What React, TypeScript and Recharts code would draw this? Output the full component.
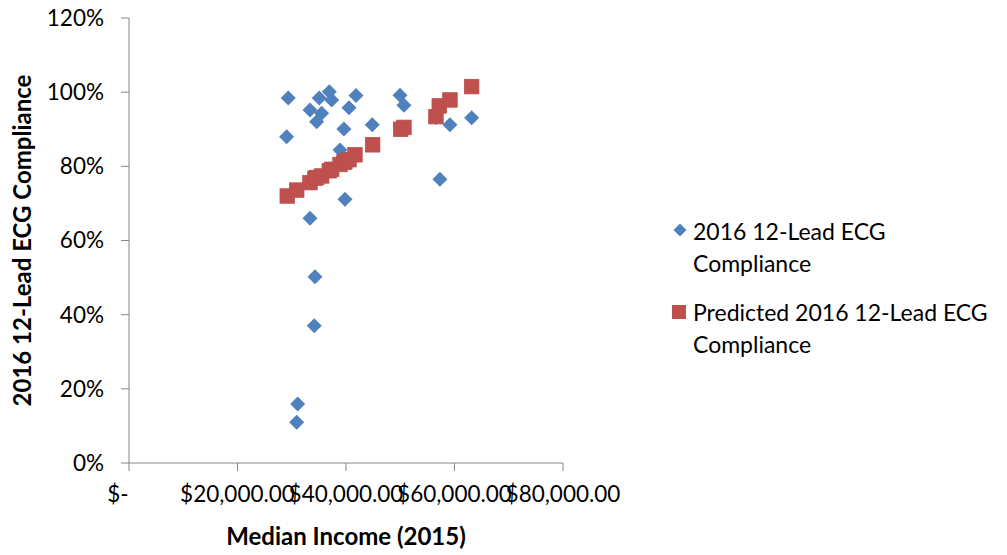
import React from 'react';
import { ScatterChart, Scatter, XAxis, YAxis, Legend } from 'recharts';

const incomeActual = [29360, 29060, 35070, 36920, 37360, 41840, 33360, 35510, 34590, 40550, 39620, 44840, 49950, 50680, 59160, 63160, 38890, 57320, 39810, 33360, 34280, 34150, 31090, 30910, 56580];
const complianceActual = [98.4, 88.0, 98.4, 100.1, 97.9, 99.1, 95.2, 94.3, 92.0, 95.8, 90.1, 91.2, 99.2, 96.5, 91.2, 93.1, 84.4, 76.5, 71.1, 66.0, 50.2, 37.0, 15.9, 11.0, 93.2];

const incomePredicted = [29170, 30910, 33360, 34280, 34590, 35510, 36920, 37360, 38890, 39620, 39810, 40550, 41650, 44910, 50070, 50680, 56580, 57190, 59160, 63160];
const compliancePredicted = [72.0, 73.6, 75.6, 76.8, 77.0, 77.4, 78.8, 79.2, 80.5, 81.1, 81.3, 81.8, 83.1, 85.8, 90.0, 90.5, 93.4, 96.3, 97.9, 101.5];

const xTicks = [0, 20000, 40000, 60000, 80000];
const xTickLabels = ['$-', '$20,000.00', '$40,000.00', '$60,000.00', '$80,000.00'];
const yTicks = [0, 20, 40, 60, 80, 100, 120];

const seriesNames = ['2016 12-Lead ECG Compliance', 'Predicted 2016 12-Lead ECG Compliance'];
const xTitle = 'Median Income (2015)';
const yTitle = '2016 12-Lead ECG Compliance';

const actualData = incomeActual.map((x, i) => ({ x, y: complianceActual[i] }));
const predictedData = incomePredicted.map((x, i) => ({ x, y: compliancePredicted[i] }));

const FONT = 'Lato, "Open Sans", sans-serif';
const BLUE = '#4F81BD';
const RED = '#C0504D';
const AXIS = '#868686';

const Diamond = (props: any) => {
  const { cx, cy } = props;
  const r = 7.5;
  return <polygon points={`${cx},${cy - r} ${cx + r},${cy} ${cx},${cy + r} ${cx - r},${cy}`} fill={BLUE} />;
};

const Square = (props: any) => {
  const { cx, cy } = props;
  const s = 14.5;
  return <rect x={cx - s / 2} y={cy - s / 2} width={s} height={s} fill={RED} stroke="#B9504D" strokeWidth={0.8} />;
};

const XTick = (props: any) => {
  const { x, y, payload } = props;
  const idx = xTicks.indexOf(payload.value);
  const label = idx >= 0 ? xTickLabels[idx] : String(payload.value);
  const shift = payload.value === 0 ? -11 : 0;
  return (
    <text x={x + shift} y={y} dy="0.71em" textAnchor="middle" fill="#000" fontFamily={FONT} fontSize={22.5}>
      {label}
    </text>
  );
};

const LegendContent = () => (
  <div style={{ fontFamily: FONT, fontSize: 23, lineHeight: '32px', color: '#000', whiteSpace: 'nowrap' }}>
    <div style={{ position: 'relative', paddingLeft: 20 }}>
      <svg width={16} height={16} style={{ position: 'absolute', left: 0, top: 8 }}>
        <polygon points="7,0.5 13.5,7 7,13.5 0.5,7" fill={BLUE} />
      </svg>
      2016 12-Lead ECG<br />Compliance
    </div>
    <div style={{ position: 'relative', paddingLeft: 20, marginTop: 17 }}>
      <svg width={16} height={16} style={{ position: 'absolute', left: -1, top: 9 }}>
        <rect x={0} y={0} width={14} height={14} fill={RED} />
      </svg>
      Predicted 2016 12-Lead ECG<br />Compliance
    </div>
  </div>
);

export default function App() {
  return (
    <div style={{ width: 999, height: 555, marginTop: -8, background: '#fff' }}>
      <ScatterChart width={999} height={555} margin={{ top: 18, right: 444, bottom: 10, left: 0 }}>
        <XAxis
          type="number"
          dataKey="x"
          domain={[0, 80000]}
          ticks={xTicks}
          interval={0}
          height={82}
          stroke={AXIS}
          tickSize={8}
          tickMargin={15}
          tick={<XTick />}
          label={{ value: xTitle, position: 'insideBottom', offset: 0, style: { fontFamily: FONT, fontWeight: 700, fontSize: 24, fill: '#000' } }}
        />
        <YAxis
          type="number"
          dataKey="y"
          domain={[0, 120]}
          ticks={yTicks}
          interval={0}
          width={121}
          stroke={AXIS}
          tickSize={8}
          tickMargin={17}
          tickFormatter={(v: number) => `${v}%`}
          tick={{ fill: '#000', fontFamily: FONT, fontSize: 22.5 }}
          label={{ value: yTitle, angle: -90, position: 'insideLeft', offset: 14, style: { textAnchor: 'middle', fontFamily: FONT, fontWeight: 700, fontSize: 24, fill: '#000' } }}
        />
        <Legend
          layout="horizontal"
          verticalAlign="middle"
          align="center"
          content={<LegendContent />}
          wrapperStyle={{ left: 665, top: 215, width: 340 }}
        />
        <Scatter name={seriesNames[0]} data={actualData} fill={BLUE} shape={<Diamond />} isAnimationActive={false} />
        <Scatter name={seriesNames[1]} data={predictedData} fill={RED} shape={<Square />} isAnimationActive={false} />
      </ScatterChart>
    </div>
  );
}
